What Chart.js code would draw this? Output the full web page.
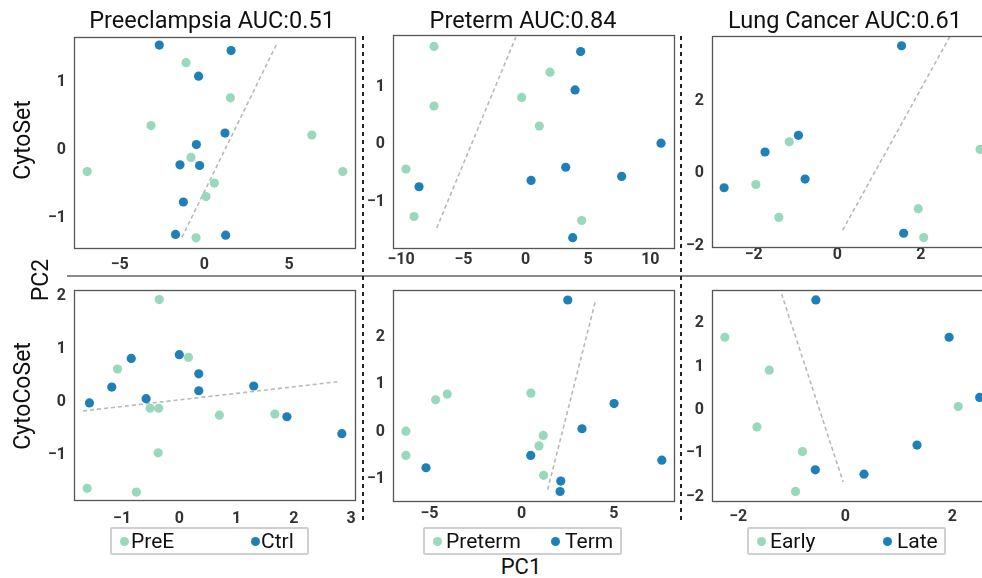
<!DOCTYPE html>
<html>
<head>
<meta charset="utf-8">
<script src="https://cdn.jsdelivr.net/npm/chart.js@4/dist/chart.umd.min.js"></script>
<style>
  html, body { margin: 0; padding: 0; background: #fff; overflow: hidden; width: 982px; height: 578px; }
  body { position: relative; font-family: Roboto, "Noto Sans", sans-serif; color: #111; }
  canvas { position: absolute; }
  .title { position: absolute; font-size: 23.5px; white-space: nowrap; transform: translateX(-50%); line-height: 1; }
  .ylab { position: absolute; font-size: 23px; white-space: nowrap; line-height: 1; transform: translate(-50%, -50%) rotate(-90deg); }
  .xlab { position: absolute; font-size: 22px; white-space: nowrap; line-height: 1; transform: translateX(-50%); }
  .legend { position: absolute; width: 195px; height: 24px; border: 2px solid #cfcfcf; border-radius: 2px; }
  .legend span { position: absolute; top: 0px; font-size: 21px; line-height: 24px; white-space: nowrap; }
  .legend i { position: absolute; top: 8px; width: 9px; height: 9px; border-radius: 50%; }
  .vsep { position: absolute; width: 2px; background: repeating-linear-gradient(to bottom, #222 0 4px, transparent 4px 8px); }
  .hsep { position: absolute; height: 2px; background: #8c8c8c; }
</style>
</head>
<body>

<script>
const GREEN = '#99d8bd';
const BLUE = '#1f80b8';

// Preeclampsia / CytoSet
const preeSetCtrl = [[-2.66,1.55],[1.58,1.47],[-0.34,1.09],[1.22,0.25],[-0.47,0.08],[-1.44,-0.22],[-0.28,-0.23],[-1.24,-0.77],[-1.70,-1.25],[1.26,-1.26]];
const preeSetPreE = [[-1.08,1.29],[1.54,0.77],[-3.15,0.36],[6.35,0.22],[-0.79,-0.11],[-6.92,-0.32],[8.18,-0.32],[0.59,-0.49],[0.10,-0.69],[-0.49,-1.30]];
const preeSetLine = [[-1.32,-1.29],[4.30,1.58]];

// Preterm / CytoSet
const termSetTerm = [[4.41,1.62],[3.96,0.95],[10.86,0.02],[3.21,-0.40],[0.43,-0.63],[7.70,-0.56],[-8.56,-0.74],[3.77,-1.63]];
const termSetPreterm = [[-7.36,1.71],[1.95,1.26],[-0.32,0.82],[-7.36,0.67],[1.09,0.32],[-9.61,-0.43],[-8.96,-1.26],[4.49,-1.33]];
const termSetLine = [[-7.14,-1.46],[-0.80,1.87]];

// Lung cancer / CytoSet
const lungSetLate = [[1.54,3.53],[-0.93,1.05],[-1.73,0.59],[-0.77,-0.16],[-2.71,-0.40],[1.59,-1.66]];
const lungSetEarly = [[-1.15,0.87],[-1.95,-0.31],[-1.40,-1.22],[1.94,-0.98],[2.07,-1.78],[3.42,0.66]];
const lungSetLine = [[0.13,-1.57],[2.70,3.79]];

// Preeclampsia / CytoCoSet
const preeCoCtrl = [[-1.57,-0.02],[-1.18,0.28],[-0.84,0.82],[-0.58,0.06],[0.00,0.89],[0.34,0.53],[0.34,0.21],[1.30,0.30],[1.88,-0.28],[2.84,-0.60]];
const preeCoPreE = [[-0.35,1.93],[0.16,0.84],[-1.08,0.62],[-0.51,-0.12],[-0.36,-0.12],[0.70,-0.25],[1.67,-0.23],[-0.37,-0.96],[-1.61,-1.63],[-0.75,-1.70]];
const preeCoLine = [[-1.68,-0.17],[2.77,0.38]];

// Preterm / CytoCoSet
const termCoTerm = [[2.50,2.77],[5.01,0.59],[3.27,0.06],[7.60,-0.60],[0.49,-0.50],[-5.19,-0.76],[2.12,-1.04],[2.08,-1.26]];
const termCoPreterm = [[-4.04,0.79],[-4.67,0.67],[0.50,0.81],[-6.28,0.01],[-6.28,-0.50],[1.17,-0.08],[0.94,-0.30],[1.19,-0.92]];
const termCoLine = [[1.41,-1.22],[4.00,2.75]];

// Lung cancer / CytoCoSet
const lungCoLate = [[-0.55,2.54],[1.94,1.68],[2.51,0.29],[1.34,-0.81],[0.35,-1.48],[-0.56,-1.38]];
const lungCoEarly = [[-2.25,1.68],[-1.42,0.92],[-1.65,-0.39],[-0.80,-0.96],[-0.93,-1.88],[2.11,0.08]];
const lungCoLine = [[-1.19,2.68],[-0.04,-1.66]];

// tick labels
const preeSetXTicks = [-5, 0, 5], preeSetYTicks = [-1, 0, 1];
const termSetXTicks = [-10, -5, 0, 5, 10], termSetYTicks = [-1, 0, 1];
const lungSetXTicks = [-2, 0, 2], lungSetYTicks = [-2, 0, 2];
const preeCoXTicks = [-1, 0, 1, 2, 3], preeCoYTicks = [-1, 0, 1, 2];
const termCoXTicks = [-5, 0, 5], termCoYTicks = [-1, 0, 1, 2];
const lungCoXTicks = [-2, 0, 2], lungCoYTicks = [-2, -1, 0, 1, 2];

const titles = ['Preeclampsia AUC:0.51', 'Preterm AUC:0.84', 'Lung Cancer AUC:0.61'];
const rowLabels = ['CytoSet', 'CytoCoSet'];
const legendLabels = [['PreE', 'Ctrl'], ['Preterm', 'Term'], ['Early', 'Late']];

const toPts = arr => arr.map(p => ({ x: p[0], y: p[1] }));
const fmt = v => (v < 0 ? '\u2212' + Math.abs(v) : String(v));

// draw a box round the plot area
const frame = {
  id: 'frame',
  afterDatasetsDraw(chart) {
    const a = chart.chartArea, c = chart.ctx;
    c.save();
    c.strokeStyle = '#555';
    c.lineWidth = 1.3;
    c.strokeRect(Math.round(a.left) + 0.5, Math.round(a.top) + 0.5, Math.round(a.right - a.left), Math.round(a.bottom - a.top));
    c.restore();
  }
};

const YW = 50, XH = 40, PT = 5, PR = 5;

// keep the plot area exactly where we want it
function fixPad(s) {
  s.paddingTop = 0; s.paddingBottom = 0; s.paddingLeft = 0; s.paddingRight = 0;
}

function panel(p) {
  const cv = document.createElement('canvas');
  const w = p.w + YW + PR, h = p.h + XH + PT;
  cv.width = w; cv.height = h;
  cv.style.left = (p.left - YW) + 'px';
  cv.style.top = (p.top - PT) + 'px';
  cv.style.width = w + 'px'; cv.style.height = h + 'px';
  document.body.appendChild(cv);
  const tickFont = { family: 'Roboto', size: 16, weight: 'bold' };
  new Chart(cv, {
    type: 'scatter',
    data: {
      datasets: [
        { data: toPts(p.a), backgroundColor: GREEN, borderWidth: 0, pointRadius: 4.6 },
        { data: toPts(p.b), backgroundColor: BLUE, borderWidth: 0, pointRadius: 4.6 },
        { data: toPts(p.line), showLine: true, borderColor: '#b8b8b8', borderWidth: 1.6, borderDash: [4, 3], pointRadius: 0 }
      ]
    },
    options: {
      responsive: false,
      animation: false,
      devicePixelRatio: 1,
      layout: { padding: { top: PT, right: PR, left: 0, bottom: 0 } },
      plugins: { legend: { display: false }, tooltip: { enabled: false } },
      scales: {
        x: {
          type: 'linear', min: p.xr[0], max: p.xr[1],
          grid: { display: false, drawTicks: false },
          border: { display: false },
          afterFit: s => { s.height = XH; fixPad(s); },
          afterBuildTicks: s => { s.ticks = p.xt.map(v => ({ value: v })); },
          ticks: { font: tickFont, color: '#333', padding: p.xpad, maxRotation: 0, callback: v => fmt(v) }
        },
        y: {
          type: 'linear', min: p.yr[0], max: p.yr[1],
          grid: { display: false, drawTicks: false },
          border: { display: false },
          afterFit: s => { s.width = YW; fixPad(s); },
          afterBuildTicks: s => { s.ticks = p.yt.map(v => ({ value: v })); },
          ticks: { font: tickFont, color: '#333', padding: 8, callback: v => fmt(v) }
        }
      }
    },
    plugins: [frame]
  });
}

panel({ left: 74, top: 37, w: 281, h: 211, xr: [-7.7, 8.9], yr: [-1.45, 1.67], xt: preeSetXTicks, yt: preeSetYTicks, xpad: 7, a: preeSetPreE, b: preeSetCtrl, line: preeSetLine });
panel({ left: 393, top: 35, w: 281, h: 213, xr: [-10.65, 11.9], yr: [-1.81, 1.91], xt: termSetXTicks, yt: termSetYTicks, xpad: 2, a: termSetPreterm, b: termSetTerm, line: termSetLine });
panel({ left: 712, top: 36, w: 281, h: 211, xr: [-3.0, 3.73], yr: [-2.04, 3.80], xt: lungSetXTicks, yt: lungSetYTicks, xpad: -2, a: lungSetEarly, b: lungSetLate, line: lungSetLine });
panel({ left: 74, top: 290, w: 281, h: 210, xr: [-1.84, 3.07], yr: [-1.85, 2.11], xt: preeCoXTicks, yt: preeCoYTicks, xpad: 9, a: preeCoPreE, b: preeCoCtrl, line: preeCoLine });
panel({ left: 393, top: 290, w: 281, h: 211, xr: [-6.98, 8.26], yr: [-1.46, 2.98], xt: termCoXTicks, yt: termCoYTicks, xpad: 3, a: termCoPreterm, b: termCoTerm, line: termCoLine });
panel({ left: 712, top: 290, w: 281, h: 211, xr: [-2.49, 2.76], yr: [-2.10, 2.77], xt: lungCoXTicks, yt: lungCoYTicks, xpad: 6, a: lungCoEarly, b: lungCoLate, line: lungCoLine });

// titles, axis labels, separators, legends
function addDiv(cls, css, html) {
  const d = document.createElement('div');
  d.className = cls;
  Object.assign(d.style, css);
  if (html !== undefined) d.innerHTML = html;
  document.body.appendChild(d);
  return d;
}

const titleX = [212, 523, 845];
titles.forEach((t, i) => addDiv('title', { left: titleX[i] + 'px', top: '9px' }, t));

addDiv('ylab', { left: '22px', top: '140px' }, rowLabels[0]);
addDiv('ylab', { left: '22px', top: '396px' }, rowLabels[1]);
addDiv('ylab', { left: '40px', top: '280px' }, 'PC2');
addDiv('xlab', { left: '521px', top: '556px' }, 'PC1');

addDiv('hsep', { left: '67px', top: '275px', width: '915px' });
addDiv('vsep', { left: '362px', top: '36px', height: '488px' });
addDiv('vsep', { left: '680px', top: '36px', height: '488px' });

const legendBoxes = [
  { left: 110, dots: [124, 255], texts: [131, 261] },
  { left: 423, dots: [437, 555], texts: [446, 565] },
  { left: 747, dots: [761, 887], texts: [770, 897] }
];
legendBoxes.forEach((lb, i) => {
  const d = addDiv('legend', { left: lb.left + 'px', top: '527px' });
  const cols = [GREEN, BLUE];
  legendLabels[i].forEach((lab, j) => {
    const dot = document.createElement('i');
    dot.style.left = (lb.dots[j] - lb.left - 2 - 4.5) + 'px';
    dot.style.background = cols[j];
    d.appendChild(dot);
    const s = document.createElement('span');
    s.style.left = (lb.texts[j] - lb.left - 2) + 'px';
    s.textContent = lab;
    d.appendChild(s);
  });
});
</script>
</body>
</html>
